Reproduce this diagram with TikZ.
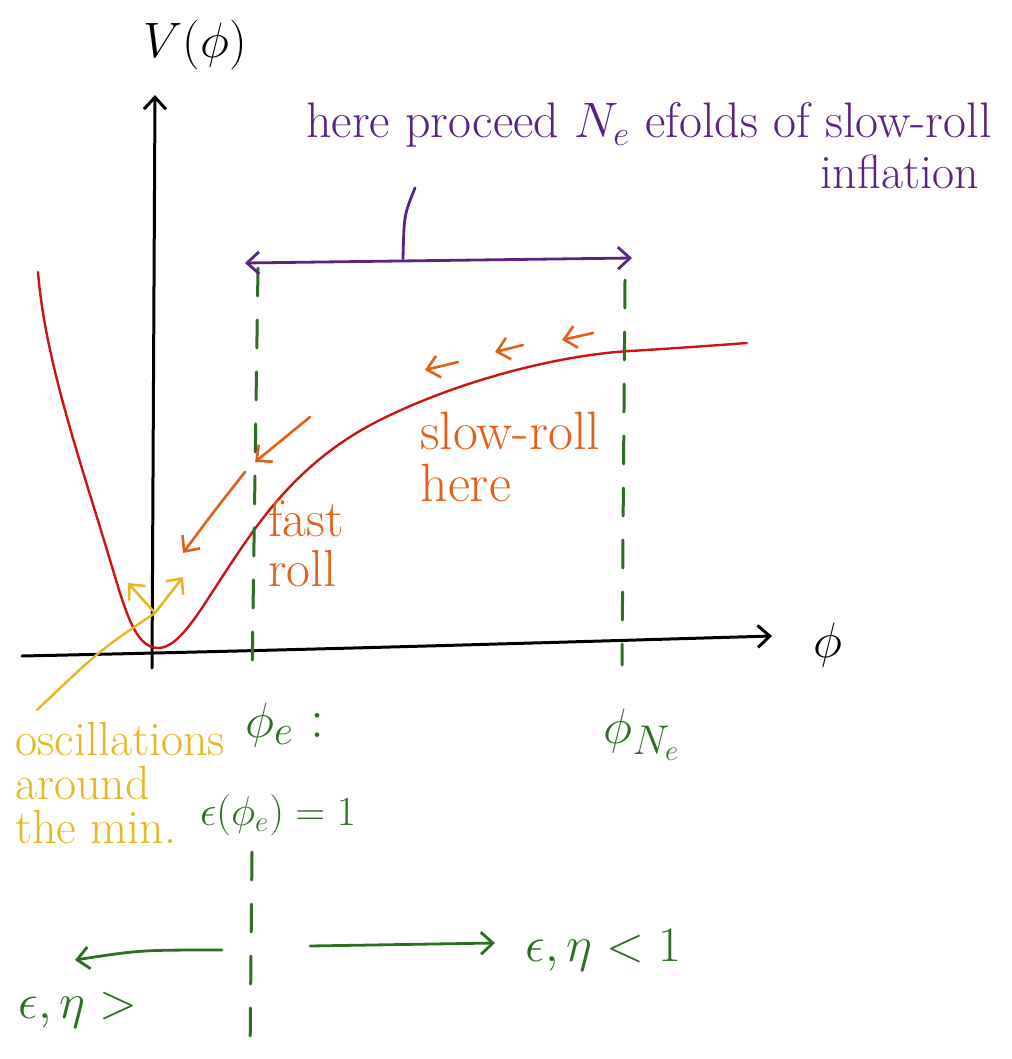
\documentclass[tikz,border=0pt]{standalone}
\usetikzlibrary{arrows.meta}
\definecolor{curveRed}{RGB}{205,20,20}
\definecolor{rollOrange}{RGB}{228,95,25}
\definecolor{oscYellow}{RGB}{230,182,35}
\definecolor{boundGreen}{RGB}{45,110,35}
\definecolor{efoldPurple}{RGB}{90,35,130}

\begin{document}
\begin{tikzpicture}[x=0.5pt, y=-0.5pt, line cap=round, line join=round,
    >={Straight Barb[length=6pt, width=11pt]},
    hand/.style={font=\fontsize{24}{22}\selectfont, inner sep=0pt, align=left},
    big/.style={font=\fontsize{28}{30}\selectfont, inner sep=0pt},
    axis/.style={line width=1.5pt, black},
    bound/.style={line width=1.5pt, boundGreen, dash pattern=on 14pt off 12pt}]
    \useasboundingbox (0,0) rectangle (1011,1059);

    % Ejes
    \coordinate (yaxisLow) at (152,668);
    \coordinate (yaxisTop) at (155,95);
    \coordinate (xaxisLow) at (22,656);
    \coordinate (xaxisTop) at (772,636);
    \draw[axis, ->] (yaxisLow) -- (yaxisTop);
    \draw[axis, ->] (xaxisLow) .. controls (300,650) and (500,644) .. (xaxisTop);
    \node[big] (vlabel) at (195,45) {$V(\phi)$};
    \node[big] (philabel) at (828,645) {$\phi$};

    % Potencial
    \draw[curveRed, line width=1.2pt] (38,272) .. controls (45,360) and (80,460) .. (110,560)
        .. controls (125,610) and (135,648) .. (158,648)
        .. controls (180,648) and (200,610) .. (230,565)
        .. controls (260,520) and (300,460) .. (380,420)
        .. controls (460,380) and (560,355) .. (630,351)
        .. controls (680,348) and (720,345) .. (747,343);

    % Lineas de phi_e y phi_Ne
    \coordinate (endTop) at (258,268);
    \coordinate (endMid) at (252,680);
    \coordinate (endRes) at (252,852);
    \coordinate (endLow) at (250,1059);
    \coordinate (neTop) at (625,280);
    \coordinate (neLow) at (622,665);
    \draw[bound] (endTop) -- (endMid);
    \draw[bound] (endRes) -- (endLow);
    \draw[bound] (neTop) -- (neLow);

    % N_e efolds
    \coordinate (efoldL) at (245,263);
    \coordinate (efoldR) at (632,258);
    \coordinate (efoldTick) at (415,188);
    \draw[efoldPurple, line width=1.4pt, <->] (efoldL) -- (efoldR);
    \draw[efoldPurple, line width=1.4pt] (403,259) .. controls (404,215) .. (efoldTick);
    \node[hand, efoldPurple, anchor=west, font=\fontsize{25}{22}\selectfont] (efoldtext) at (306,125) {here proceed $N_e$ efolds of slow-roll};
    \node[hand, efoldPurple] (inflation) at (900,172) {inflation};

    % Rodando
    \draw[rollOrange, line width=1.3pt, ->] (593,333) -- (562,340);
    \draw[rollOrange, line width=1.3pt, ->] (523,345) -- (495,352);
    \draw[rollOrange, line width=1.3pt, ->] (458,362) -- (425,370);
    \draw[rollOrange, line width=1.3pt, ->] (310,417) -- (255,462);
    \draw[rollOrange, line width=1.3pt, ->] (245,472) .. controls (215,510) .. (183,553);
    \node[hand, rollOrange, anchor=north west, font=\fontsize{27}{26}\selectfont] (slowroll) at (420,412) {slow-roll\\here};
    \node[hand, rollOrange, anchor=north west, font=\fontsize{26}{25}\selectfont] (fastroll) at (268,500) {fast\\roll};

    % Oscilaciones
    \coordinate (oscBase) at (155,613);
    \draw[oscYellow, line width=1.3pt, ->] (oscBase) -- (128,583);
    \draw[oscYellow, line width=1.3pt, ->] (oscBase) -- (183,577);
    \draw[oscYellow, line width=1.2pt] (oscBase) .. controls (100,650) .. (37,710);
    \node[hand, oscYellow, anchor=north west] (osclabel) at (15,722) {oscillations\\around\\the min.};

    % Condiciones
    \node[big, boundGreen] (phie) at (285,725) {$\phi_e$ :};
    \node[hand, boundGreen, font=\fontsize{22}{22}\selectfont] (epsone) at (278,815) {$\epsilon(\phi_e) = 1$};
    \node[big, boundGreen] (phine) at (642,735) {$\phi_{N_e}$};
    \draw[boundGreen, line width=1.4pt, ->] (222,950) .. controls (140,950) .. (75,960);
    \draw[boundGreen, line width=1.4pt, ->] (310,946) -- (495,943);
    \node[hand, boundGreen, anchor=west] (small) at (525,950) {$\epsilon,\eta < 1$};
    \node[hand, boundGreen, anchor=west] (large) at (18,1010) {$\epsilon,\eta >$};
\end{tikzpicture}
\end{document}
